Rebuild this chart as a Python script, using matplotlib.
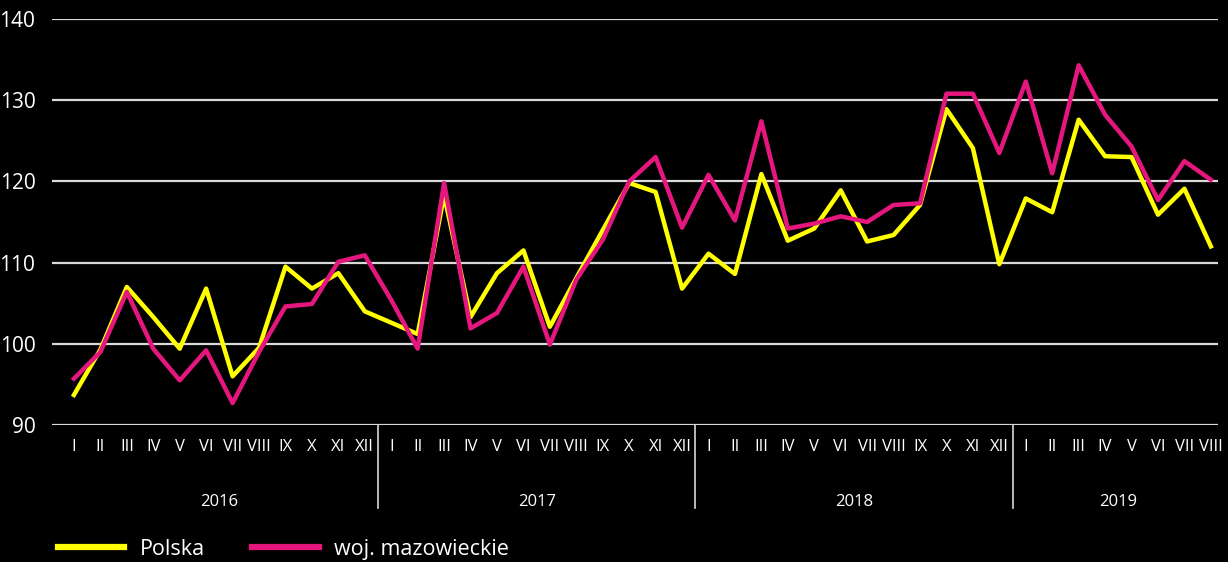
import numpy as np
import matplotlib
matplotlib.use('Agg')
import matplotlib.pyplot as plt
import matplotlib.transforms as mtransforms

plt.rcParams['font.family'] = ['Open Sans', 'DejaVu Sans']

years = ['2016', '2017', '2018', '2019']
months = ['I', 'II', 'III', 'IV', 'V', 'VI', 'VII', 'VIII', 'IX', 'X', 'XI', 'XII']
month_labels = months * 3 + months[:8]

polska = [93.7, 99.3, 107.0, 103.3, 99.4, 106.8, 96.0, 99.5, 109.5, 106.8, 108.7, 104.0,
          102.6, 101.2, 118.3, 103.3, 108.7, 111.5, 102.1, 108.1, 114.0, 119.8, 118.7, 106.8,
          111.1, 108.6, 120.9, 112.7, 114.2, 118.9, 112.6, 113.4, 117.1, 128.9, 124.1, 109.8,
          117.9, 116.2, 127.6, 123.1, 123.0, 115.9, 119.1, 112.0]
mazowieckie = [95.7, 99.0, 106.4, 99.4, 95.5, 99.2, 92.7, 99.0, 104.6, 104.9, 110.1, 110.9,
               105.4, 99.4, 119.8, 101.9, 103.8, 109.5, 99.9, 107.9, 112.8, 120.0, 123.0, 114.3,
               120.8, 115.2, 127.4, 114.2, 114.8, 115.7, 115.0, 117.1, 117.3, 130.8, 130.8, 123.5,
               132.3, 121.0, 134.3, 128.2, 124.3, 117.7, 122.5, 120.2]

x = np.arange(len(polska))

fig = plt.figure(figsize=(12.28, 5.62), dpi=100, facecolor='black')
ax = fig.add_axes([52/1228, 1 - 425/562, (1218-52)/1228, (425-19)/562])
ax.set_facecolor('black')

for v in range(90, 141, 10):
    ax.axhline(v, color='#d9d9d9', lw=1.6, zorder=1)

ax.plot(x, polska, color='#ffff00', lw=3.2, zorder=3, label='Polska')
ax.plot(x, mazowieckie, color='#e5177e', lw=3.2, zorder=4, label='woj. mazowieckie')

ax.set_ylim(90, 140)
ax.set_xlim(-0.83, 43.27)
ax.set_yticks(range(90, 141, 10))
ax.tick_params(axis='y', length=0, pad=12, labelsize=15, labelcolor='white')
ax.set_xticks(x)
ax.set_xticklabels(month_labels)
ax.tick_params(axis='x', length=0, pad=10, labelsize=12, labelcolor='white')
for s in ax.spines.values():
    s.set_visible(False)

# year separators and labels
trans = mtransforms.blended_transform_factory(ax.transData, ax.transAxes)
for i, yr in enumerate(years):
    start = i * 12 - 0.5
    n = min(12, len(polska) - i * 12)
    ax.text(start + n / 2, -0.19, yr, transform=trans, ha='center', va='center',
            color='white', fontsize=12)
    if i > 0:
        ax.plot([start, start], [0, -0.205], transform=trans, color='#d9d9d9',
                lw=1.2, clip_on=False)

leg = fig.legend(loc='lower left', bbox_to_anchor=(0.047, 0.004), ncol=2, frameon=False,
                 borderpad=0, borderaxespad=0, handlelength=3.1, handletextpad=0.7,
                 columnspacing=2.2, fontsize=15.5, labelcolor='white')
for h in leg.get_lines():
    h.set_linewidth(4.5)

fig.savefig('out.png', dpi=100, facecolor='black')
